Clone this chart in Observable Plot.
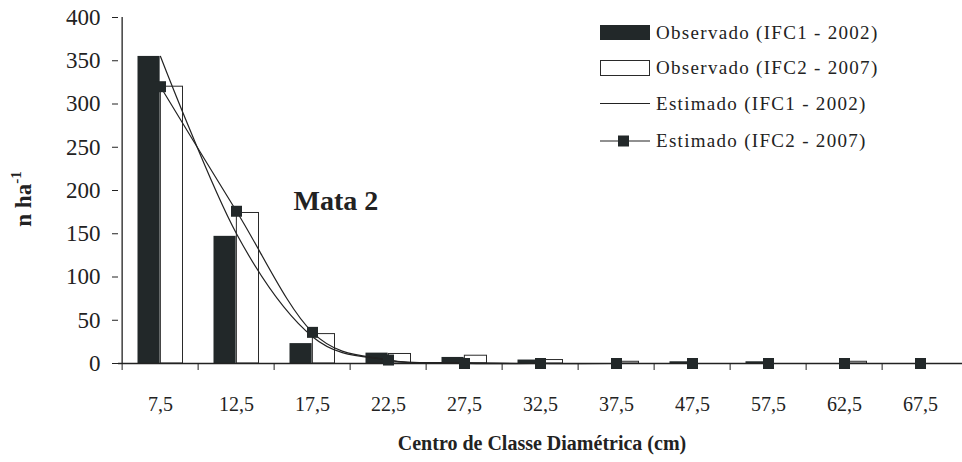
<!DOCTYPE html>
<html>
<head>
<meta charset="utf-8">
<script src="https://cdn.jsdelivr.net/npm/d3@7"></script>
<script src="https://cdn.jsdelivr.net/npm/@observablehq/plot@0.6"></script>
<style>
  html, body { margin: 0; padding: 0; background: #fff; }
  #wrap { position: relative; width: 962px; height: 462px; font-family: "Liberation Serif", "Times New Roman", serif; color: #222; }
  .leg { position: absolute; left: 600px; width: 340px; height: 20px; font-size: 19px; letter-spacing: 1.3px; color: #222; white-space: nowrap; }
  .leg svg { position: absolute; left: 0; top: 0; }
  .leg span { position: absolute; left: 56px; line-height: 20px; white-space: nowrap; }
</style>
</head>
<body>
<div id="wrap"></div>
<script>
// ---- data ----
const categories = ["7,5","12,5","17,5","22,5","27,5","32,5","37,5","47,5","57,5","62,5","67,5"];
const obsIFC1 = [355, 147, 23, 12, 7, 4, 0, 2, 2, 0, 0];
const obsIFC2 = [320, 174, 34, 11, 9, 4, 2, 0, 0, 2, 0];
const estIFC1 = [355, 150, 31, 4, 1, 0, 0, 0, 0, 0, 0];
const estIFC2 = [320, 176, 36, 4, 0, 0, 0, 0, 0, 0, 0];
const yTicks = [0, 50, 100, 150, 200, 250, 300, 350, 400];
const seriesNames = ["Observado (IFC1 - 2002)", "Observado (IFC2 - 2007)", "Estimado (IFC1 - 2002)", "Estimado (IFC2 - 2007)"];

const rows = categories.map((c, i) => ({cat: c, obs1: obsIFC1[i], obs2: obsIFC2[i], est1: estIFC1[i], est2: estIFC2[i]}));

const W = 962, H = 462, mL = 118, mR = 0, mT = 17, mB = 99;
const step = (W - mL - mR) / categories.length;
const ink = "#222829";

const chart = Plot.plot({
  width: W, height: H,
  marginLeft: mL, marginRight: mR, marginTop: mT, marginBottom: mB,
  style: {fontFamily: "'Liberation Serif', 'Times New Roman', serif", color: "#222", background: "white", overflow: "visible"},
  x: {type: "band", domain: categories, padding: 0, label: null},
  y: {domain: [0, 400], label: null},
  marks: [
    Plot.barY(rows, {x: "cat", y: "obs1", fill: ink, insetLeft: 15.5, insetRight: step / 2}),
    Plot.barY(rows, {x: "cat", y: "obs2", fill: "white", stroke: "#2a2a2a", strokeWidth: 1, insetLeft: step / 2, insetRight: 15.5}),
    Plot.ruleY([0], {stroke: "#222", strokeWidth: 1.3}),
    Plot.ruleX([categories[0]], {y1: 0, y2: 400, dx: -step / 2, stroke: "#222", strokeWidth: 1.3}),
    Plot.line(rows, {x: "cat", y: "est1", curve: "cardinal", stroke: "#222", strokeWidth: 1.2}),
    Plot.line(rows, {x: "cat", y: "est2", curve: "cardinal", stroke: "#222", strokeWidth: 1.2}),
    Plot.dot(rows, {x: "cat", y: "est2", symbol: "square", fill: ink, stroke: "none", r: 6.2}),
    Plot.axisY({ticks: yTicks, tickSize: 6, tickPadding: 12, fontSize: 23, label: null, stroke: "#222"}),
    Plot.axisX({tickSize: 7, tickFormat: () => "", dx: -step / 2, label: null, stroke: "#222"}),
    Plot.axisX({tickSize: 0, tickPadding: 33, fontSize: 20, label: null})
  ]
});

const wrap = document.getElementById("wrap");
wrap.appendChild(chart);

const svg = d3.select(chart);

// y-axis title with superscript
const yt = svg.append("text")
  .attr("transform", "translate(31,199) rotate(-90)")
  .attr("text-anchor", "middle")
  .attr("font-weight", "bold")
  .attr("font-size", 23)
  .attr("fill", "#222");
yt.append("tspan").text("n ha");
yt.append("tspan").attr("font-size", 15).attr("dy", -10).text("-1");

// x-axis title
svg.append("text")
  .attr("x", 542).attr("y", 450)
  .attr("text-anchor", "middle")
  .attr("font-weight", "bold")
  .attr("font-size", 20)
  .attr("fill", "#222")
  .text("Centro de Classe Diamétrica (cm)");

// annotation
svg.append("text")
  .attr("x", 336).attr("y", 210)
  .attr("font-weight", "bold")
  .attr("font-size", 28)
  .attr("fill", "#222")
  .text("Mata 2");

// legend
const legTops = [25, 60, 96, 133];
const swatches = [
  `<rect x="0.5" y="0.5" width="49" height="14" fill="${ink}" stroke="${ink}"/>`,
  `<rect x="0.5" y="0.5" width="49" height="15" fill="white" stroke="#2a2a2a"/>`,
  `<line x1="0" x2="50" y1="7.5" y2="7.5" stroke="#222" stroke-width="1.2"/>`,
  `<line x1="0" x2="50" y1="8" y2="8" stroke="#222" stroke-width="1.2"/><rect x="18" y="2.5" width="11" height="11" fill="${ink}"/>`
];
seriesNames.forEach((name, i) => {
  const d = document.createElement("div");
  d.className = "leg";
  d.style.top = legTops[i] + "px";
  d.innerHTML = `<svg width="52" height="17">${swatches[i]}</svg><span style="top:-2px">${name}</span>`;
  wrap.appendChild(d);
});
</script>
</body>
</html>
